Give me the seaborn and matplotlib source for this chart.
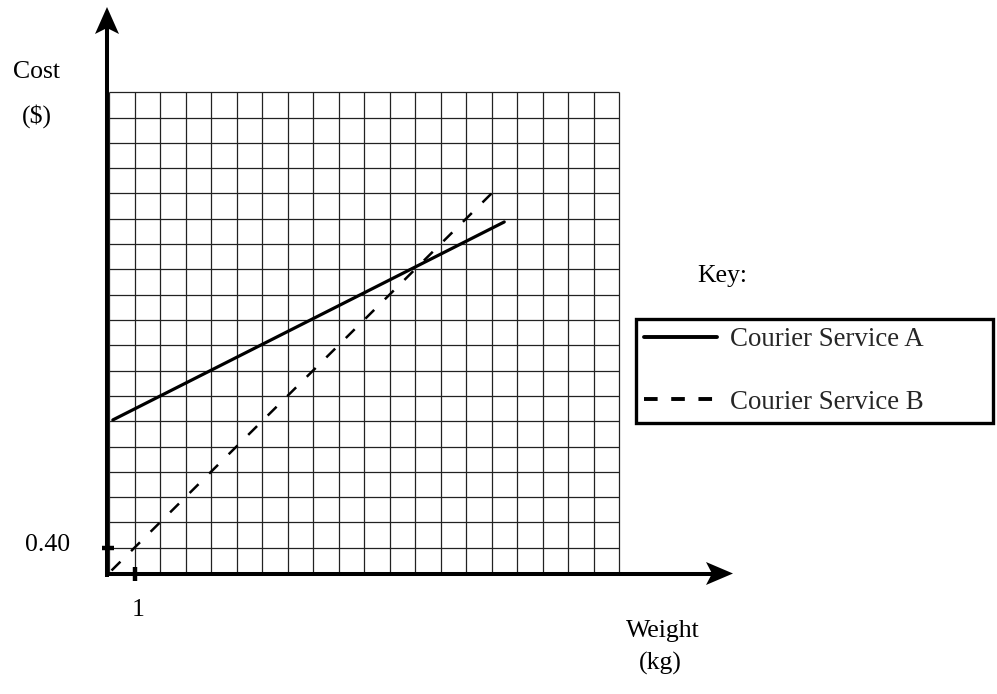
import matplotlib
matplotlib.use("Agg")
import matplotlib.pyplot as plt
from matplotlib.lines import Line2D
import seaborn as sns

# data (weight in kg, cost in $)
weight_a = [0.15, 15.5]
cost_a = [2.42, 5.55]
weight_b = [0.1, 15.2]
cost_b = [0.04, 6.08]
series_names = ["Courier Service A", "Courier Service B"]

grid_cols = 20     # 1 kg per column
grid_rows = 19     # $0.40 per row
x_step = 1
y_step = 0.40
x_tick_label = "1"
y_tick_label = "0.40"

W, H = 997, 694
sns.set_theme(style="white")
plt.rcParams["font.family"] = ["Liberation Serif", "DejaVu Serif"]
FS = 18.5


def fpos(x, y):
    # pixel position -> figure fraction
    return x / W, 1 - y / H


fig = plt.figure(figsize=(W / 100, H / 100), dpi=100)
ax = fig.add_axes([0, 0, 1, 1])
ax.axis("off")

# map data units onto the pixel grid of the picture
px_x = 25.5                  # pixels per kg
px_y = 25.3 / y_step         # pixels per dollar
x0_px, y0_px = 109, 573
ax.set_xlim(-x0_px / px_x, (W - x0_px) / px_x)
ax.set_ylim(-(H - y0_px) / px_y, y0_px / px_y)


def dpos(x, y):
    # pixel position -> data units
    return (x - x0_px) / px_x, (y0_px - y) / px_y


# graph paper
xs = [i * x_step for i in range(grid_cols + 1)]
ys = [j * y_step for j in range(grid_rows + 1)]
ax.vlines(xs, 0, ys[-1], color="#222222", lw=0.9, zorder=1)
ax.hlines(ys, 0, xs[-1], color="#222222", lw=0.9, zorder=1)

# axes with arrow heads
ax.plot(*zip(dpos(105, 573.5), dpos(712, 573.5)), color="black", lw=2.9,
        solid_capstyle="butt", zorder=4)
ax.plot(*zip(dpos(107, 577), dpos(107, 28)), color="black", lw=2.9,
        solid_capstyle="butt", zorder=4)
head_x = [dpos(733, 573.5), dpos(706, 562), dpos(712, 573.5), dpos(706, 585)]
head_y = [dpos(107, 7), dpos(95, 34), dpos(107, 28), dpos(119, 34)]
for head in (head_x, head_y):
    hx, hy = zip(*head)
    ax.fill(hx, hy, color="black", lw=0, zorder=4)

# single ticks
ax.plot([-7 / px_x, 5 / px_x], [y_step, y_step], color="black", lw=3.2,
        solid_capstyle="butt", zorder=4)
ax.plot([x_step, x_step], [-8 / px_y, 6 / px_y], color="black", lw=3.2,
        solid_capstyle="butt", zorder=4)

# the two services
sns.lineplot(x=weight_a, y=cost_a, ax=ax, color="black", lw=2.3, zorder=3)
sns.lineplot(x=weight_b, y=cost_b, ax=ax, color="black", lw=1.8,
             linestyle=(0, (5, 6)), zorder=3)

# labels
tkw = dict(fontsize=FS, ha="center", va="center", color="black")
fig.text(*fpos(36, 72), "Cost", **tkw)
fig.text(*fpos(37, 116), "($)", **tkw)
fig.text(*fpos(48, 545), y_tick_label, **tkw)
fig.text(*fpos(138, 610), x_tick_label, **tkw)
fig.text(*fpos(663, 631), "Weight", **tkw)
fig.text(*fpos(660, 663), "(kg)", **tkw)
fig.text(*fpos(722, 276), "Key:", **tkw)

# key box
handles = [Line2D([], [], color="black", lw=2.8),
           Line2D([], [], color="black", lw=2.8, linestyle=(0, (3.5, 3.5)))]
leg = fig.legend(handles, series_names, loc="upper left",
                 bbox_to_anchor=(636 / W, 1 - 319 / H - 0.01, 357 / W, 0.01),
                 mode="expand", fontsize=19.4, frameon=True, fancybox=False,
                 framealpha=1, edgecolor="black", borderpad=0.3,
                 labelspacing=1.4, handlelength=2.7, handletextpad=0.5,
                 borderaxespad=0)
leg.get_frame().set_linewidth(2.4)

fig.savefig("out.png", dpi=100)
plt.close(fig)
